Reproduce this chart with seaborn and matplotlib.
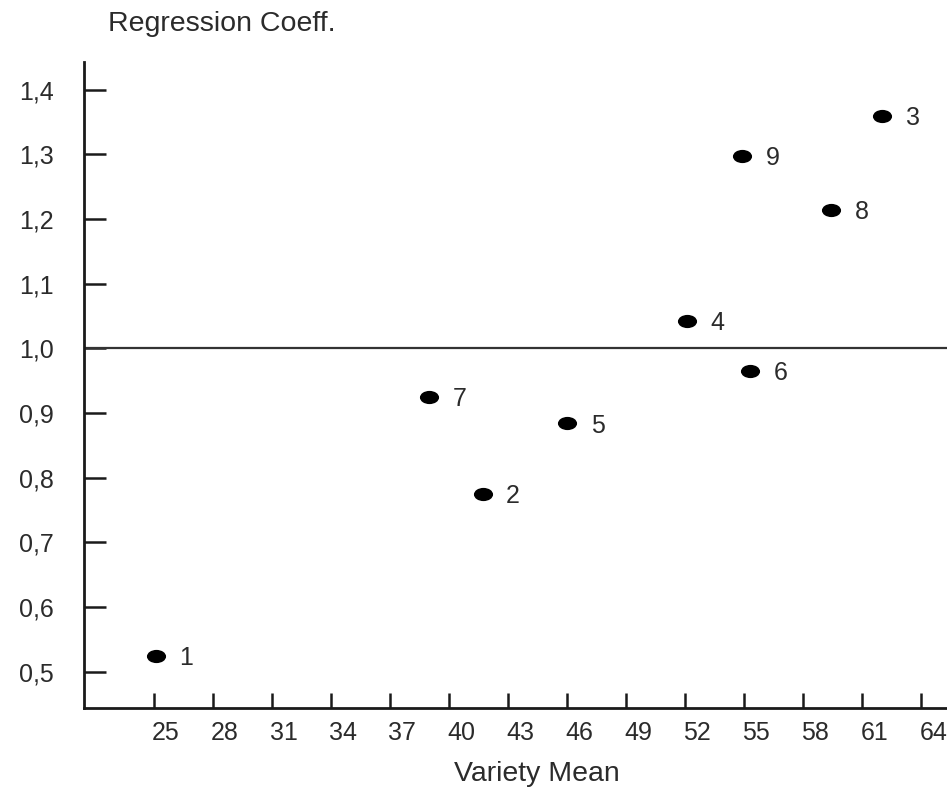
#Regression coefficient vs variety mean________________________________________

import numpy as np
import pandas as pd
import seaborn as sns
import matplotlib.pyplot as plt
from matplotlib.path import Path
from matplotlib.transforms import ScaledTranslation, Affine2D

#Values
varieties = ['1', '2', '3', '4', '5', '6', '7', '8', '9']
variety_mean = [25.1, 41.7, 62.0, 52.1, 46.0, 55.3, 39.0, 59.4, 54.9]
regr_coeff = [0.525, 0.775, 1.359, 1.043, 0.884, 0.965, 0.925, 1.214, 1.298]

x_ticks = [25, 28, 31, 34, 37, 40, 43, 46, 49, 52, 55, 58, 61, 64]
y_ticks = [0.5, 0.6, 0.7, 0.8, 0.9, 1.0, 1.1, 1.2, 1.3, 1.4]
y_tick_labels = ['0,5', '0,6', '0,7', '0,8', '0,9', '1,0', '1,1', '1,2', '1,3', '1,4']

df = pd.DataFrame({'variety': varieties, 'mean': variety_mean, 'coeff': regr_coeff})

sns.set_style('white')
plt.rcParams['font.family'] = ['Liberation Sans', 'DejaVu Sans']
text_col = '#2b2b2b'
fsize = 18

fig = plt.figure(figsize=(9.47, 7.87), dpi=100)
ax = fig.add_axes([84/947, 1-708/787, 1-84/947, (708-62)/787])

#slightly oval dot
oval = Affine2D().scale(1.45, 1.0).transform_path(Path.unit_circle())
sns.scatterplot(data=df, x='mean', y='coeff', ax=ax, marker=oval, s=190,
                color='black', edgecolor='black', linewidth=0, zorder=3)

for _, row in df.iterrows():
    ax.annotate(row['variety'], (row['mean'], row['coeff']), xytext=(17, -1.5),
                textcoords='offset points', va='center', ha='left',
                fontsize=fsize, color=text_col)

ax.axhline(1.0, color='#333333', lw=1.6, zorder=2)

ax.set_xlim(21.45, 65.3)
ax.set_ylim(0.444, 1.443)
ax.set_xticks(x_ticks)
ax.set_yticks(y_ticks)
ax.set_yticklabels(y_tick_labels)
ax.set_xlabel('')
ax.set_ylabel('')

for side in ['top', 'right']:
    ax.spines[side].set_visible(False)
for side in ['left', 'bottom']:
    ax.spines[side].set_linewidth(2.0)
    ax.spines[side].set_color('#1a1a1a')

ax.tick_params(axis='y', direction='in', length=16, width=1.8, pad=22,
               labelsize=fsize, labelcolor=text_col, color='#1a1a1a', left=True)
ax.tick_params(axis='x', direction='in', length=11, width=1.8, pad=9,
               labelsize=fsize, labelcolor=text_col, color='#1a1a1a', bottom=True)

#x labels sit a bit right of their ticks
shift = ScaledTranslation(12/100, 0, fig.dpi_scale_trans)
for lab in ax.get_xticklabels():
    lab.set_transform(lab.get_transform() + shift)

fig.text(108/947, 1-31/787, 'Regression Coeff.', fontsize=20.5, color=text_col,
         ha='left', va='baseline')
fig.text(537/947, 1-781/787, 'Variety Mean', fontsize=20.5, color=text_col,
         ha='center', va='baseline')

fig.savefig('out.png', dpi=100)
